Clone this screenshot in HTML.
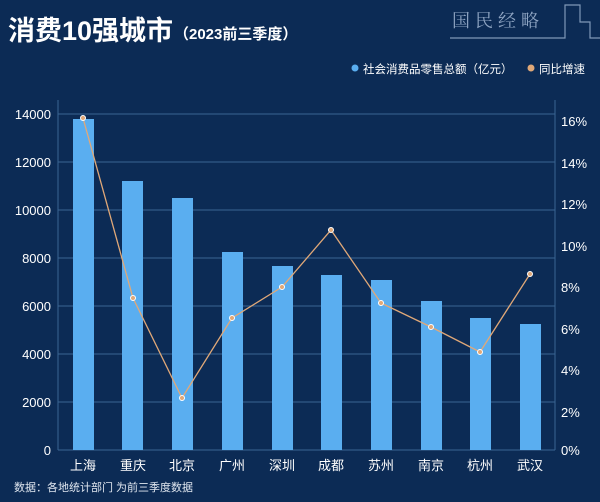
<!DOCTYPE html>
<html><head><meta charset="utf-8"><style>
body{margin:0;width:600px;height:502px;background:#0c2b55;overflow:hidden;font-family:"Liberation Sans","Noto Sans CJK SC",sans-serif;}
</style></head><body>
<svg width="600" height="502" viewBox="0 0 600 502" style="position:absolute;left:0;top:0">
<rect width="600" height="502" fill="#0c2b55"/>
<text x="8" y="40" fill="#fff" font-size="27" font-weight="bold" font-family="Liberation Sans,Noto Sans CJK SC,sans-serif">消费10强城市</text>
<text x="174" y="39" fill="#fff" font-size="15" font-weight="bold" font-family="Liberation Sans,Noto Sans CJK SC,sans-serif">（2023前三季度）</text>
<text x="452" y="27" fill="#8ea4c2" font-size="18" font-family="Noto Serif CJK SC,serif" letter-spacing="5">国民经略</text>
<path d="M450 38 H565 V5 H580 V22 H590 V38 H600" stroke="#7f98b8" fill="none" stroke-width="1.2"/>
<circle cx="355" cy="68" r="3.5" fill="#5aaef0"/>
<text x="363" y="73" fill="#fff" font-size="11.5" font-family="Liberation Sans,Noto Sans CJK SC,sans-serif">社会消费品零售总额（亿元）</text>
<circle cx="531" cy="68" r="3.5" fill="#e0a878"/>
<text x="539" y="73" fill="#fff" font-size="11.5" font-family="Liberation Sans,Noto Sans CJK SC,sans-serif">同比增速</text>
<g stroke="#3a6592" stroke-width="1">
<line x1="58" y1="114" x2="555" y2="114"/><line x1="58" y1="162" x2="555" y2="162"/>
<line x1="58" y1="210" x2="555" y2="210"/><line x1="58" y1="258" x2="555" y2="258"/>
<line x1="58" y1="306" x2="555" y2="306"/><line x1="58" y1="354" x2="555" y2="354"/>
<line x1="58" y1="402" x2="555" y2="402"/><line x1="58" y1="450" x2="555" y2="450"/>
<line x1="58" y1="100" x2="58" y2="450"/><line x1="555" y1="100" x2="555" y2="450"/>
</g>
<g fill="#fff" font-size="13" text-anchor="end">
<text x="51" y="119">14000</text><text x="51" y="167">12000</text><text x="51" y="215">10000</text>
<text x="51" y="263">8000</text><text x="51" y="311">6000</text><text x="51" y="359">4000</text>
<text x="51" y="407">2000</text><text x="51" y="455">0</text>
</g>
<g fill="#fff" font-size="13">
<text x="561" y="126">16%</text><text x="561" y="168">14%</text><text x="561" y="209">12%</text>
<text x="561" y="251">10%</text><text x="561" y="292">8%</text><text x="561" y="334">6%</text>
<text x="561" y="375">4%</text><text x="561" y="417">2%</text><text x="561" y="455">0%</text>
</g>
<g fill="#5aaef0">
<rect x="73" y="119" width="21" height="331"/><rect x="122" y="181" width="21" height="269"/>
<rect x="172" y="198" width="21" height="252"/><rect x="222" y="252" width="21" height="198"/>
<rect x="272" y="266" width="21" height="184"/><rect x="321" y="275" width="21" height="175"/>
<rect x="371" y="280" width="21" height="170"/><rect x="421" y="301" width="21" height="149"/>
<rect x="470" y="318" width="21" height="132"/><rect x="520" y="324" width="21" height="126"/>
</g>
<polyline fill="none" stroke="#e0a878" stroke-width="1.3" points="83,118 133,298 182,398 232,318 282,287 331,230 381,303 431,327 480,352 530,274"/>
<g fill="#e0a878" stroke="#fff" stroke-width="1">
<circle cx="83" cy="118" r="2.5"/><circle cx="133" cy="298" r="2.5"/><circle cx="182" cy="398" r="2.5"/>
<circle cx="232" cy="318" r="2.5"/><circle cx="282" cy="287" r="2.5"/><circle cx="331" cy="230" r="2.5"/>
<circle cx="381" cy="303" r="2.5"/><circle cx="431" cy="327" r="2.5"/><circle cx="480" cy="352" r="2.5"/>
<circle cx="530" cy="274" r="2.5"/>
</g>
<g fill="#fff" font-size="13" text-anchor="middle">
<text x="83" y="470">上海</text><text x="133" y="470">重庆</text><text x="182" y="470">北京</text>
<text x="232" y="470">广州</text><text x="282" y="470">深圳</text><text x="331" y="470">成都</text>
<text x="381" y="470">苏州</text><text x="431" y="470">南京</text><text x="480" y="470">杭州</text>
<text x="530" y="470">武汉</text>
</g>
<text x="14" y="491" fill="#dfe6ef" font-size="11">数据：各地统计部门 为前三季度数据</text>
</svg>
</body></html>
